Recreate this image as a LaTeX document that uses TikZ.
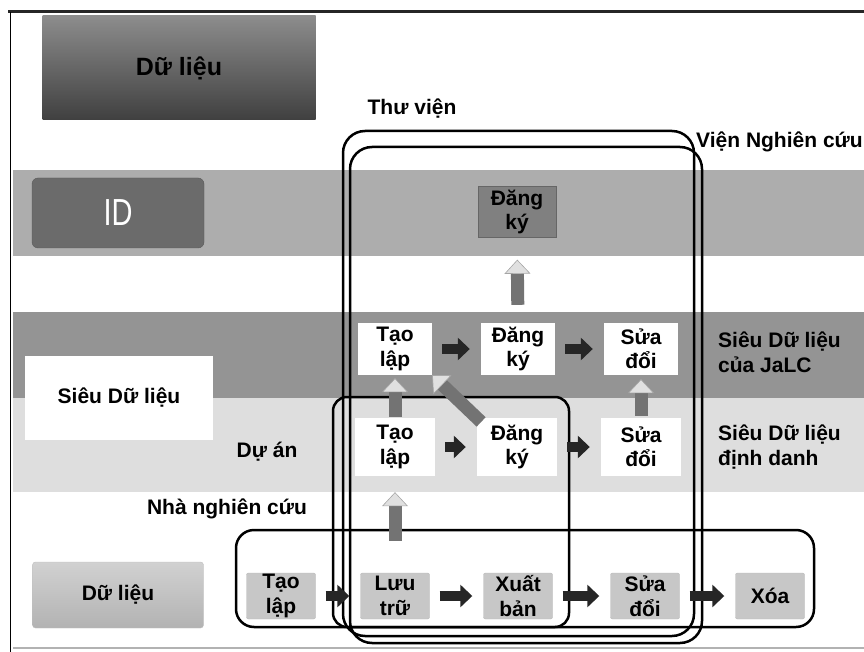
\documentclass[tikz,border=0pt]{standalone}
\usepackage{fontspec}
\setmainfont{Liberation Sans}
\usetikzlibrary{arrows.meta}

\definecolor{bandid}{gray}{0.68}
\definecolor{bandjalc}{gray}{0.58}
\definecolor{bandpid}{gray}{0.87}
\definecolor{cellgray}{gray}{0.78}

\newcommand\cellfont{\bfseries\fontsize{21}{24.5}\selectfont}
\newcommand\lblfont{\bfseries\fontsize{21}{25}\selectfont}

\tikzset{
  cell/.style={fill=white, align=center, inner sep=0pt, font=\cellfont},
  datacell/.style={cell, fill=cellgray, draw=black!28, rounded corners=2pt},
  lbl/.style={inner sep=0pt, align=left, font=\lblfont},
  blk/.style={-{Triangle[width=22pt,length=12pt]}, line width=10pt, black!85,
    shorten <=10pt, shorten >=11pt},
  grad/.style={-{Triangle[width=26pt,length=14pt,line width=0.6pt,fill=black!12,color=black!35]},
    line width=13pt, black!55},
  group/.style={line width=2.5pt, rounded corners=18pt}
}

\begin{document}
\begin{tikzpicture}[x=1pt,y=-1pt]
 \useasboundingbox (0,0) rectangle (864,652);

 % bands
 \fill[bandid] (13,170) rectangle (864,256);
 \fill[bandjalc] (13,312) rectangle (864,398);
 \fill[bandpid] (13,398) rectangle (864,492);
 \draw[black!30, line width=1.5pt] (13,648) -- (864,648);
 \draw[black!85, line width=3pt] (8,12) -- (864,12);
 \draw[line width=1pt] (10,12) -- (10,652);

 % left column
 \node[top color=black!45, bottom color=black!75, minimum width=273pt,
   minimum height=104pt, font=\bfseries\fontsize{25}{30}\selectfont] (data) at (179,68) {Dữ liệu};
 \node[fill=black!58, draw=black!65, rounded corners=6pt, minimum width=172pt,
   minimum height=70pt, text=white, font=\fontsize{29}{30}\selectfont] (id) at (118,213)
   {\scalebox{1}[1.3]{ID}};
 \node[fill=white, minimum width=188pt, minimum height=84pt, font=\lblfont] (meta) at (119,398) {Siêu Dữ liệu};
 \node[top color=black!18, bottom color=black!30, draw=black!25, rounded corners=3pt,
   minimum width=171pt, minimum height=66pt, font=\lblfont] (raw) at (118,595) {Dữ liệu};

 % groups
 \draw[group] (236,530) rectangle (814,627);
 \draw[group, rounded corners=14pt] (333,397) rectangle (569,627);
 \draw[group, rounded corners=22pt] (343,131) rectangle (694,636);
 \draw[group, rounded corners=22pt] (350,147) rectangle (702,643);

 % labels
 \node[lbl, anchor=base] (lib) at (412,115) {Thư viện};
 \node[lbl, anchor=base west] (inst) at (696,148) {Viện Nghiên cứu};
 \node[lbl, anchor=base] (proj) at (267,457) {Dự án};
 \node[lbl, anchor=base] (res) at (227,514) {Nhà nghiên cứu};
 \node[lbl, anchor=west] (jalc) at (718,352) {Siêu Dữ liệu\\của JaLC};
 \node[lbl, anchor=west] (pid) at (718,447) {Siêu Dữ liệu\\định danh};

 % cells
 \node[cell, fill=black!50, draw=black!60, minimum width=78pt, minimum height=51pt] (reg) at (517,212) {Đăng\\ký};
 \foreach \n/\x/\txt in {j1/395/Tạo\\lập, j2/518/Đăng\\ký, j3/641/Sửa\\đổi}
   \node[cell, minimum width=74pt, minimum height=52pt] (\n) at (\x,349) {\txt};
 \foreach \n/\x/\txt in {m1/395/Tạo\\lập, m2/517/Đăng\\ký, m3/641/Sửa\\đổi}
   \node[cell, minimum width=80pt, minimum height=58pt] (\n) at (\x,447) {\txt};
 \foreach \n/\x/\txt in {d1/281/Tạo\\lập, d2/395/Lưu\\trữ, d3/518/Xuất\\bản, d4/645/Sửa\\đổi, d5/770/Xóa}
   \node[datacell, minimum width=69pt, minimum height=46pt] (\n) at (\x,596) {\txt};

 % arrows
 \foreach \a/\b in {j1/j2, j2/j3, m1/m2, m2/m3, d1/d2, d2/d3, d3/d4, d4/d5}
   \draw[blk] (\a) -- (\b);
 \draw[grad, shorten <=32pt, shorten >=16pt] (d2.north) -- (m1.south);
 \draw[grad, shorten <=1pt, shorten >=3pt] (m1.north) -- (j1.south);
 \draw[grad, shorten <=2pt, shorten >=4pt] (m3.north) -- (j3.south);
 \draw[grad, shorten <=-6pt, shorten >=0pt] (m2.north west) -- (j1.south east);
 \draw[grad, shorten <=18pt, shorten >=22pt] (j2.north) -- (reg.south);
\end{tikzpicture}
\end{document}
